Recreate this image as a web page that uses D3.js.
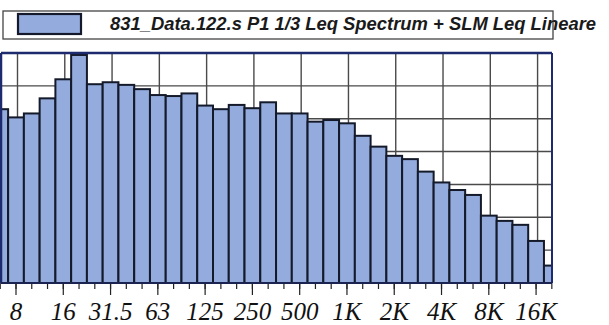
<!DOCTYPE html>
<html>
<head>
<meta charset="utf-8">
<script src="https://cdn.jsdelivr.net/npm/d3@7"></script>
<style>
  html, body { margin: 0; padding: 0; background: #fff; }
  svg { display: block; }
</style>
</head>
<body>
<div id="chart"></div>
<script>
// 1/3 octave band centre frequencies (6.3 Hz .. 20 kHz)
const bands = ['6.3', '8', '10', '12.5', '16', '20', '25', '31.5', '40', '50', '63', '80',
  '100', '125', '160', '200', '250', '315', '400', '500', '630', '800', '1K', '1.25K',
  '1.6K', '2K', '2.5K', '3.15K', '4K', '5K', '6.3K', '8K', '10K', '12.5K', '16K', '20K'];

// Leq per band, dB
const levels = [52.9, 50.4, 51.6, 56.2, 62.0, 69.4, 60.5, 61.1, 60.3, 59.0, 57.2, 56.9,
  57.7, 54.0, 52.9, 54.2, 53.2, 55.0, 51.6, 51.6, 49.1, 49.6, 48.6, 44.8,
  41.5, 38.7, 37.7, 33.9, 30.6, 28.3, 26.8, 20.5, 18.9, 17.7, 12.8, 5.3];

// octave bands that carry a label
const octaveBands = ['8', '16', '31.5', '63', '125', '250', '500', '1K', '2K', '4K', '8K', '16K'];
const yTicks = [10, 20, 30, 40, 50, 60];

const legendText = '831_Data.122.s P1 1/3 Leq Spectrum + SLM Leq Lineare';

const W = 609, H = 325;
const plot = { left: 1, right: 552, top: 53, bottom: 283 };
const step = 15.76;

const svg = d3.select('#chart').append('svg')
  .attr('width', W)
  .attr('height', H);

const x = d3.scaleBand()
  .domain(bands)
  .range([16 - 1.5 * step, 16 + 34.5 * step])
  .paddingInner(0)
  .paddingOuter(0);

const y = d3.scaleLinear()
  .domain([0, 70])
  .range([plot.bottom, plot.top]);

const barColor = '#93abdd';

svg.append('defs').append('clipPath')
  .attr('id', 'plotClip')
  .append('rect')
  .attr('x', plot.left)
  .attr('y', plot.top - 2)
  .attr('width', plot.right - plot.left)
  .attr('height', plot.bottom - plot.top + 2);

// grid
const grid = svg.append('g').attr('clip-path', 'url(#plotClip)');
grid.selectAll('.hgrid')
  .data(yTicks)
  .enter()
  .append('line')
  .attr('x1', plot.left)
  .attr('x2', plot.right)
  .attr('y1', d => y(d))
  .attr('y2', d => y(d))
  .attr('stroke', '#4a4a4a')
  .attr('stroke-width', 1.4);

grid.selectAll('.vgrid')
  .data(octaveBands)
  .enter()
  .append('line')
  .attr('x1', d => x(d) + x.bandwidth() / 2 + 1.5)
  .attr('x2', d => x(d) + x.bandwidth() / 2 + 1.5)
  .attr('y1', plot.top)
  .attr('y2', plot.bottom)
  .attr('stroke', '#4a4a4a')
  .attr('stroke-width', 1.4);

// bars
grid.selectAll('.bar')
  .data(bands)
  .enter()
  .append('rect')
  .attr('class', 'bar')
  .attr('x', d => x(d))
  .attr('y', (d, i) => y(levels[i]))
  .attr('width', x.bandwidth())
  .attr('height', (d, i) => plot.bottom - y(levels[i]))
  .attr('fill', barColor)
  .attr('stroke', '#141a2a')
  .attr('stroke-width', 2);

// frame
svg.append('line')
  .attr('x1', plot.left).attr('x2', plot.right)
  .attr('y1', plot.top).attr('y2', plot.top)
  .attr('stroke', '#1d2b6e').attr('stroke-width', 2.5);
svg.append('line')
  .attr('x1', plot.right).attr('x2', plot.right)
  .attr('y1', plot.top).attr('y2', plot.bottom)
  .attr('stroke', '#1d2b6e').attr('stroke-width', 2);
svg.append('line')
  .attr('x1', plot.left).attr('x2', plot.left)
  .attr('y1', plot.top).attr('y2', plot.bottom)
  .attr('stroke', '#1d2b6e').attr('stroke-width', 2.5);

// bottom axis: minor ticks at every band, major ticks + labels at octaves
const minorAxis = svg.append('g')
  .attr('transform', `translate(0,${plot.bottom})`)
  .call(d3.axisBottom(x).tickSize(6).tickFormat(''));
minorAxis.select('.domain').remove();
minorAxis.selectAll('line').attr('stroke', '#222').attr('stroke-width', 1.2);

const majorAxis = svg.append('g')
  .attr('transform', `translate(0,${plot.bottom})`)
  .call(d3.axisBottom(x).tickValues(octaveBands).tickSize(12));
majorAxis.select('.domain').remove();
majorAxis.selectAll('line').attr('stroke', '#222').attr('stroke-width', 1.2);
majorAxis.selectAll('text')
  .attr('y', 37)
  .attr('dy', null)
  .attr('fill', '#111')
  .style('font-family', '"Liberation Serif", "Times New Roman", serif')
  .style('font-style', 'italic')
  .style('font-size', '25px');

svg.append('line')
  .attr('x1', plot.left).attr('x2', plot.right)
  .attr('y1', plot.bottom).attr('y2', plot.bottom)
  .attr('stroke', '#1b2350').attr('stroke-width', 2);

// legend
const legend = svg.append('g');
legend.append('rect')
  .attr('x', 3).attr('y', 11)
  .attr('width', 550).attr('height', 28)
  .attr('fill', 'none')
  .attr('stroke', '#444')
  .attr('stroke-width', 1.3);
legend.append('rect')
  .attr('x', 18).attr('y', 14)
  .attr('width', 63).attr('height', 20)
  .attr('fill', barColor)
  .attr('stroke', '#141a2a')
  .attr('stroke-width', 2.2);
legend.append('text')
  .attr('x', 110).attr('y', 30)
  .attr('fill', '#1a1a1a')
  .style('font-family', '"Liberation Sans", Arial, sans-serif')
  .style('font-weight', 'bold')
  .style('font-style', 'italic')
  .style('font-size', '18.4px')
  .text(legendText);
</script>
</body>
</html>
